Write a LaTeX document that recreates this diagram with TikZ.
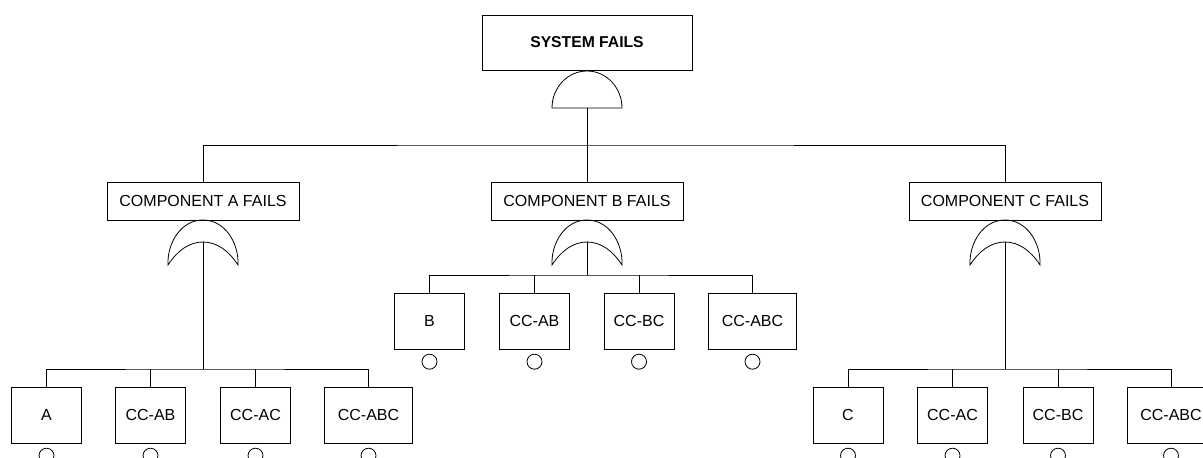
\documentclass[tikz,border=0pt]{standalone}
\usepackage{fontspec}
\setmainfont{Liberation Sans}
\begin{document}
\begin{tikzpicture}[x=1pt,y=-1pt,
  line width=0.8pt,
  evt/.style={draw, line width=0.8pt, minimum width=70pt, minimum height=56pt, inner sep=0pt, anchor=north, font=\fontsize{16}{19}\selectfont},
  wide/.style={minimum width=88pt},
  comp/.style={draw, line width=0.8pt, minimum width=192pt, minimum height=38pt, inner sep=0pt, anchor=north, font=\fontsize{16}{19}\selectfont},
  circ/.style={draw, circle, line width=0.8pt, minimum size=15pt, inner sep=0pt, anchor=north, yshift=-4pt},
  gate/.style={draw, line width=0.8pt},
  andgate/.pic={\draw[gate] (-35,0) arc[start angle=180,end angle=0,x radius=35pt,y radius=37pt] -- cycle;},
  orgate/.pic={\draw[gate] (-35,0) .. controls (-36,-22) and (-22,-45) .. (0,-45)
      .. controls (22,-45) and (36,-22) .. (35,0)
      .. controls (26,-14) and (14,-23) .. (0,-23)
      .. controls (-14,-23) and (-26,-14) .. (-35,0) -- cycle;}
]
\useasboundingbox (0,0) rectangle (1203,458);
\clip (0,0) rectangle (1203,458);

% top event
\node[draw, minimum width=210pt, minimum height=55pt, inner sep=0pt, font=\bfseries\fontsize{15.7}{19}\selectfont] (top) at (587,42.5) {SYSTEM FAILS};
\pic at (587,108) {andgate};
\coordinate (topout) at (587,108);
\coordinate (j0) at (587,145);

% intermediate events
\node[comp] (compA) at (203,182) {COMPONENT A FAILS};
\node[comp] (compB) at (587,182) {COMPONENT B FAILS};
\node[comp] (compC) at (1005,182) {COMPONENT C FAILS};

\draw (topout) -- (compB.north);
\draw (compA.north) |- (j0) -| (compC.north);

% OR gates
\pic at (203,265) {orgate};
\pic at (587,265) {orgate};
\pic at (1005,265) {orgate};
\coordinate (orA) at (203,242);
\coordinate (orB) at (587,242);
\coordinate (orC) at (1005,242);
\coordinate (jA) at (203,369);
\coordinate (jB) at (587,275);
\coordinate (jC) at (1005,369);

% group A
\node[evt] (a1) at (46.5,387) {A};
\node[evt] (a2) at (150.5,387) {CC-AB};
\node[evt] (a3) at (255.5,387) {CC-AC};
\node[evt,wide] (a4) at (368.5,387) {CC-ABC};
\draw (orA) -- (jA);
\draw (a1.north) |- (jA) -| (a4.north);
\draw (a2.north) -- (a2.north |- jA);
\draw (a3.north) -- (a3.north |- jA);
\foreach \n in {a1,a2,a3,a4} \node[circ] (c\n) at (\n.south) {};

% group B
\node[evt] (b1) at (429.5,293) {B};
\node[evt] (b2) at (534.5,293) {CC-AB};
\node[evt] (b3) at (639,293) {CC-BC};
\node[evt,wide] (b4) at (752.5,293) {CC-ABC};
\draw (orB) -- (jB);
\draw (b1.north) |- (jB) -| (b4.north);
\draw (b2.north) -- (b2.north |- jB);
\draw (b3.north) -- (b3.north |- jB);
\foreach \n in {b1,b2,b3,b4} \node[circ] (c\n) at (\n.south) {};

% group C
\node[evt] (e1) at (848,387) {C};
\node[evt] (e2) at (952.5,387) {CC-AC};
\node[evt] (e3) at (1058,387) {CC-BC};
\node[evt,wide] (e4) at (1171,387) {CC-ABC};
\draw (orC) -- (jC);
\draw (e1.north) |- (jC) -| (e4.north);
\draw (e2.north) -- (e2.north |- jC);
\draw (e3.north) -- (e3.north |- jC);
\foreach \n in {e1,e2,e3,e4} \node[circ] (c\n) at (\n.south) {};
\end{tikzpicture}
\end{document}
